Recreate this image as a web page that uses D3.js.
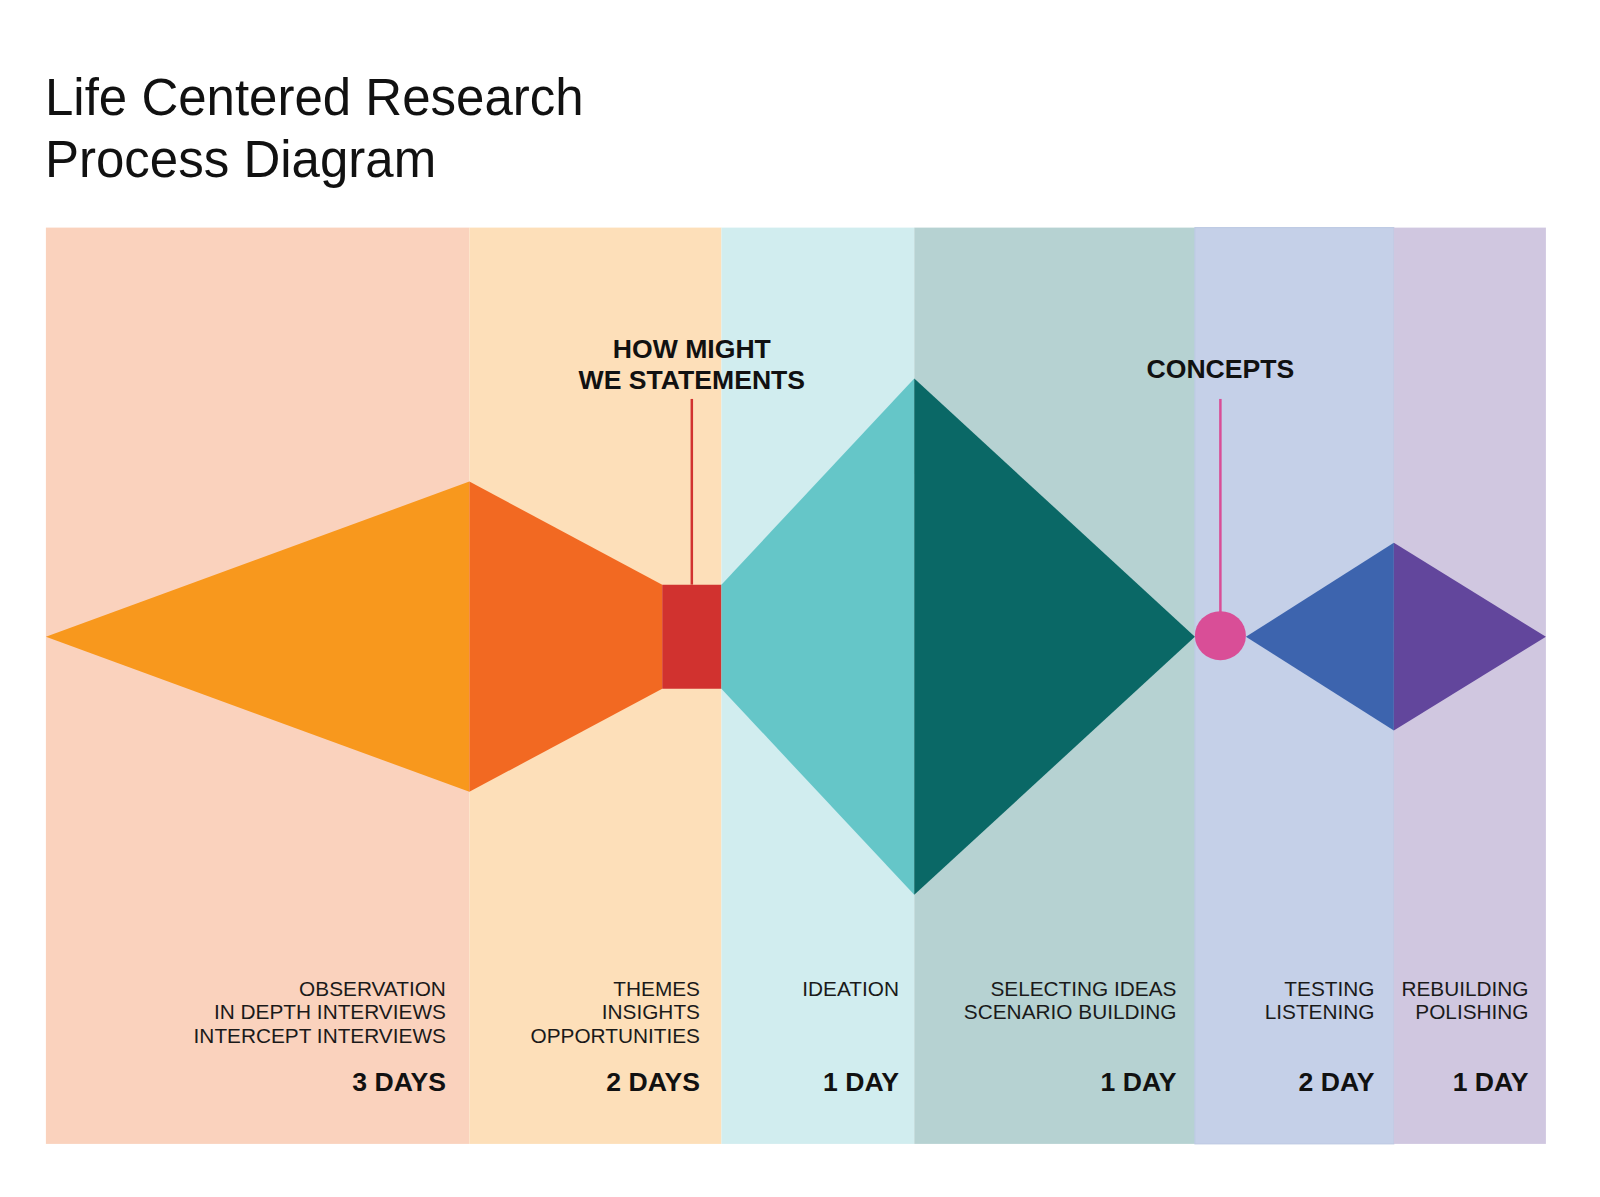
<!DOCTYPE html>
<html>
<head>
<meta charset="utf-8">
<script src="https://cdn.jsdelivr.net/npm/d3@7"></script>
<style>
  body { margin: 0; background: #fff; }
  svg { display: block; font-family: "Liberation Sans", Arial, Helvetica, sans-serif; }
</style>
</head>
<body>
<svg id="chart" width="1600" height="1197"></svg>
<script>
// ---- data ----
var titleLines = ["Life Centered Research", "Process Diagram"];
var phases = ["Research", "Synthesis", "Ideation", "Selection", "Testing", "Rebuilding"];
// band boundaries along the process (diagram units)
var bandEdges = [0, 415, 662, 851, 1126, 1321, 1470];
var activities = [
    ["OBSERVATION", "IN DEPTH INTERVIEWS", "INTERCEPT INTERVIEWS"],
    ["THEMES", "INSIGHTS", "OPPORTUNITIES"],
    ["IDEATION"],
    ["SELECTING IDEAS", "SCENARIO BUILDING"],
    ["TESTING", "LISTENING"],
    ["REBUILDING", "POLISHING"]
];
var durations = ["3 DAYS", "2 DAYS", "1 DAY", "1 DAY", "2 DAY", "1 DAY"];

// divergent / convergent profile: start, end and half-width at each end
var segStart = [0, 415, 604, 662, 851, 1176, 1321];
var segEnd = [415, 604, 662, 851, 1126, 1321, 1470];
var segFrom = [0, 152, 51, 51, 253, 0, 92];
var segTo = [152, 51, 51, 253, 0, 92, 0];

// milestones
var milestones = [["HOW MIGHT", "WE STATEMENTS"], ["CONCEPTS"]];
var milestoneAt = [633, 1151];

// ---- style ----
var bandColors = ["#FAD2BD", "#FDDFB9", "#D1EDEF", "#B6D2D2", "#C5D0E8", "#D0C7E0"];
var segColors = ["#F8981D", "#F26922", "#D1322F", "#65C6C8", "#0A6866", "#3D64AE", "#62469C"];
var labelInset = [23, 21, 15, 18, 19, 17];

var svg = d3.select("#chart");
var k = 1600 / 1568;

var x = d3.scaleLinear().domain([0, 1470]).range([45.9, 45.9 + 1470 * k]);
var y = d3.scaleLinear().domain([-300, 300]).range([636.7 + 300 * k, 636.7 - 300 * k]);
var bandTop = 227.6, bandBottom = 1143.9;

// title
svg.append("g").selectAll("text")
    .data(titleLines)
    .join("text")
    .attr("x", 45)
    .attr("y", function(d, i){ return 115.3 + i * 61.2; })
    .attr("font-size", 51)
    .attr("fill", "#111")
    .text(function(d){ return d; });

// background bands
svg.append("g").selectAll("rect")
    .data(phases)
    .join("rect")
    .attr("x", function(d, i){ return x(bandEdges[i]); })
    .attr("y", bandTop)
    .attr("width", function(d, i){ return x(bandEdges[i + 1]) - x(bandEdges[i]); })
    .attr("height", bandBottom - bandTop)
    .attr("fill", function(d, i){ return bandColors[i]; })
    .attr("stroke", function(d, i){ return i == 4 ? "#BBC7E2" : "none"; })
    .attr("stroke-width", 1);

// process shapes
svg.append("g").selectAll("path")
    .data(segStart)
    .join("path")
    .attr("d", function(d, i){
        return "M" + x(segStart[i]) + "," + y(segFrom[i]) +
            "L" + x(segEnd[i]) + "," + y(segTo[i]) +
            "L" + x(segEnd[i]) + "," + y(-segTo[i]) +
            "L" + x(segStart[i]) + "," + y(-segFrom[i]) + "Z";
    })
    .attr("fill", function(d, i){ return segColors[i]; });

// milestone stems + concept dot
var stemColors = ["#D1322F", "#D94E97"];
var stemEnd = [51, 24];
svg.append("g").selectAll("line")
    .data(milestoneAt)
    .join("line")
    .attr("x1", function(d){ return x(d); })
    .attr("x2", function(d){ return x(d); })
    .attr("y1", y(233))
    .attr("y2", function(d, i){ return y(stemEnd[i]); })
    .attr("stroke", function(d, i){ return stemColors[i]; })
    .attr("stroke-width", 2.5);

svg.append("ellipse")
    .attr("cx", x(milestoneAt[1]))
    .attr("cy", y(1))
    .attr("rx", x(25) - x(0))
    .attr("ry", y(0) - y(24))
    .attr("fill", "#D94E97");

// milestone labels
svg.append("g").selectAll("text")
    .data(milestones)
    .join("text")
    .attr("x", function(d, i){ return x(milestoneAt[i]); })
    .attr("y", function(d){ return d.length > 1 ? 358.2 : 377.6; })
    .attr("text-anchor", "middle")
    .attr("font-size", 26.6)
    .attr("font-weight", "bold")
    .attr("fill", "#111")
    .each(function(d){
        d3.select(this).selectAll("tspan")
            .data(d)
            .join("tspan")
            .attr("x", d3.select(this).attr("x"))
            .attr("dy", function(t, j){ return j == 0 ? 0 : 30.6; })
            .text(function(t){ return t; });
    });

// activity labels
var labels = svg.append("g").selectAll("g")
    .data(phases)
    .join("g");

labels.append("text")
    .attr("text-anchor", "end")
    .attr("font-size", 20.8)
    .attr("fill", "#1a1a1a")
    .each(function(d, i){
        var ax = x(bandEdges[i + 1] - labelInset[i]);
        d3.select(this).selectAll("tspan")
            .data(activities[i])
            .join("tspan")
            .attr("x", ax)
            .attr("y", function(t, j){ return 995.9 + j * 23.5; })
            .text(function(t){ return t; });
    });

labels.append("text")
    .attr("text-anchor", "end")
    .attr("font-size", 26.6)
    .attr("font-weight", "bold")
    .attr("fill", "#111")
    .attr("x", function(d, i){ return x(bandEdges[i + 1] - labelInset[i]); })
    .attr("y", 1090.8)
    .text(function(d, i){ return durations[i]; });
</script>
</body>
</html>
